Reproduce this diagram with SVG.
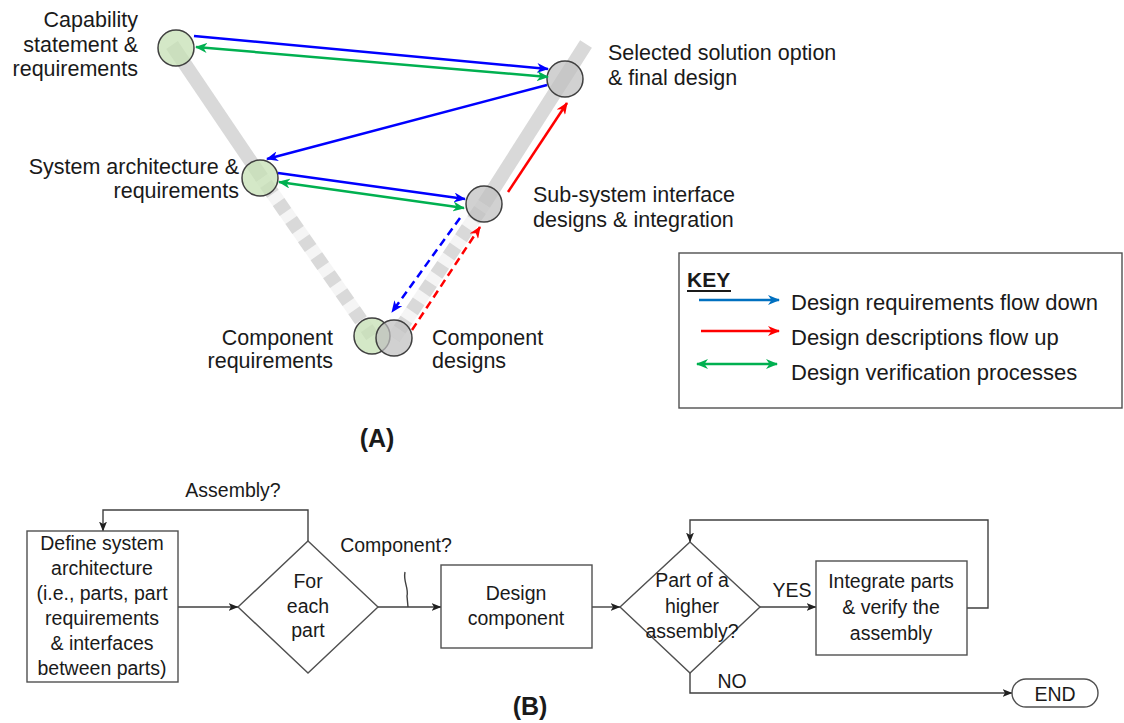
<svg xmlns="http://www.w3.org/2000/svg" width="1124" height="723" viewBox="0 0 1124 723">
  <style>
    text { font-family: "Liberation Sans", Arial, sans-serif; fill: #1a1a1a; }
    .lbl { font-size: 21.5px; }
    .key { font-size: 22px; }
    .fc { font-size: 19.5px; text-anchor: middle; }
    .title { font-size: 25px; font-weight: bold; text-anchor: middle; }
    .bar { stroke: #d9d9d9; stroke-width: 14; fill: none; stroke-linecap: butt; }
    .bar-dash { stroke: #d9d9d9; stroke-width: 14; fill: none; stroke-dasharray: 12 10; }
    .bar-thin { stroke: #f5f5f5; stroke-width: 14; fill: none; }
    .req { fill: #c5e0b4; fill-opacity: 0.75; stroke: #404040; stroke-width: 1.5; }
    .des { fill: #bfbfbf; fill-opacity: 0.72; stroke: #404040; stroke-width: 1.5; }
    .blue { stroke: #0000ff; stroke-width: 2.5; fill: none; marker-end: url(#hBlue); }
    .green { stroke: #00b050; stroke-width: 2.5; fill: none; marker-start: url(#hGreen); marker-end: url(#hGreen); }
    .red { stroke: #ff0000; stroke-width: 2.5; fill: none; marker-end: url(#hRed); }
    .dash { stroke-dasharray: 8 5; }
    .box { fill: #ffffff; stroke: #505050; stroke-width: 1.4; }
    .flow { stroke: #404040; stroke-width: 1.4; fill: none; }
    .flow-arrow { stroke: #404040; stroke-width: 1.4; fill: none; marker-end: url(#hFlow); }
  </style>
  <defs>
    <marker id="hBlue" viewBox="0 0 12 10" refX="11" refY="5" markerWidth="12" markerHeight="10" markerUnits="userSpaceOnUse" orient="auto-start-reverse">
      <path d="M0,0 L12,5 L0,10 L3.5,5 z" fill="#0000ff"/>
    </marker>
    <marker id="hKeyBlue" viewBox="0 0 12 10" refX="11" refY="5" markerWidth="12" markerHeight="10" markerUnits="userSpaceOnUse" orient="auto-start-reverse">
      <path d="M0,0 L12,5 L0,10 L3.5,5 z" fill="#0070c0"/>
    </marker>
    <marker id="hGreen" viewBox="0 0 12 10" refX="11" refY="5" markerWidth="12" markerHeight="10" markerUnits="userSpaceOnUse" orient="auto-start-reverse">
      <path d="M0,0 L12,5 L0,10 L3.5,5 z" fill="#00b050"/>
    </marker>
    <marker id="hRed" viewBox="0 0 12 10" refX="11" refY="5" markerWidth="12" markerHeight="10" markerUnits="userSpaceOnUse" orient="auto-start-reverse">
      <path d="M0,0 L12,5 L0,10 L3.5,5 z" fill="#ff0000"/>
    </marker>
    <marker id="hFlow" viewBox="0 0 10 8" refX="9.5" refY="4" markerWidth="10" markerHeight="8" markerUnits="userSpaceOnUse" orient="auto">
      <path d="M0,0 L10,4 L0,8 L2.5,4 z" fill="#202020"/>
    </marker>
  </defs>

  <rect width="1124" height="723" fill="#ffffff"/>

  <!-- (A) V-model backbone -->
  <g id="v-backbone">
    <line class="bar" x1="172" y1="45" x2="262" y2="178"/>
    <line class="bar-thin" x1="262" y1="178" x2="372" y2="336"/>
    <line class="bar-dash" x1="266" y1="184" x2="372" y2="336"/>
    <line class="bar" x1="586" y1="44" x2="484" y2="204"/>
    <line class="bar-thin" x1="484" y1="204" x2="394" y2="338"/>
    <line class="bar-dash" x1="480" y1="210" x2="394" y2="338"/>
  </g>

  <g id="node-capability">
    <circle class="req" cx="176" cy="48" r="18"/>
    <text class="lbl" text-anchor="end" x="138" y="27">Capability</text>
    <text class="lbl" text-anchor="end" x="138" y="52">statement &amp;</text>
    <text class="lbl" text-anchor="end" x="138" y="76">requirements</text>
  </g>
  <g id="node-selected">
    <circle class="des" cx="565" cy="79" r="18"/>
    <text class="lbl" x="608" y="60">Selected solution option</text>
    <text class="lbl" x="608" y="85">&amp; final design</text>
  </g>
  <g id="node-system">
    <circle class="req" cx="260" cy="178" r="18"/>
    <text class="lbl" text-anchor="end" x="239" y="174">System architecture &amp;</text>
    <text class="lbl" text-anchor="end" x="239" y="198">requirements</text>
  </g>
  <g id="node-subsystem">
    <circle class="des" cx="484" cy="204" r="18"/>
    <text class="lbl" x="533" y="202">Sub-system interface</text>
    <text class="lbl" x="533" y="227">designs &amp; integration</text>
  </g>
  <g id="node-component-req">
    <circle class="req" cx="372" cy="336" r="18"/>
    <text class="lbl" text-anchor="end" x="333" y="345">Component</text>
    <text class="lbl" text-anchor="end" x="333" y="368">requirements</text>
  </g>
  <g id="node-component-des">
    <circle class="des" cx="394" cy="338" r="18"/>
    <text class="lbl" x="432" y="345">Component</text>
    <text class="lbl" x="432" y="368">designs</text>
  </g>

  <g id="v-connectors">
    <line class="blue" x1="194" y1="36" x2="548" y2="69"/>
    <line class="green" x1="548" y1="77" x2="196" y2="47"/>
    <line class="blue" x1="547" y1="85" x2="267" y2="159"/>
    <line class="blue" x1="278" y1="173" x2="465" y2="199"/>
    <line class="green" x1="464" y1="208" x2="279" y2="182"/>
    <line class="red" x1="508" y1="192" x2="567" y2="103"/>
    <line class="red dash" x1="412" y1="330" x2="480" y2="227"/>
    <line class="blue dash" x1="460" y1="218" x2="392" y2="312"/>
  </g>

  <g id="key">
    <rect x="679" y="253" width="443" height="155" fill="#ffffff" stroke="#505050" stroke-width="1.4"/>
    <text x="687" y="287" font-size="21px" font-weight="bold">KEY</text>
    <line x1="687" y1="291" x2="731" y2="291" stroke="#1a1a1a" stroke-width="2"/>
    <line x1="699" y1="300" x2="779" y2="300" stroke="#0070c0" stroke-width="2.5" marker-end="url(#hKeyBlue)"/>
    <line x1="701" y1="331" x2="779" y2="331" stroke="#ff0000" stroke-width="2.5" marker-end="url(#hRed)"/>
    <line x1="697" y1="364" x2="777" y2="364" stroke="#00b050" stroke-width="2.5" marker-start="url(#hGreen)" marker-end="url(#hGreen)"/>
    <text class="key" x="791" y="310">Design requirements flow down</text>
    <text class="key" x="791" y="345">Design descriptions flow up</text>
    <text class="key" x="791" y="380">Design verification processes</text>
  </g>

  <text class="title" x="377" y="447">(A)</text>

  <!-- (B) flowchart -->
  <g id="flow-connectors">
    <line class="flow-arrow" x1="178" y1="607" x2="238" y2="607"/>
    <polyline class="flow-arrow" points="308,541 308,510 103,510 103,531"/>
    <line class="flow-arrow" x1="378" y1="607" x2="441" y2="607"/>
    <path class="flow" d="M405,572 C403,582 409,588 407,596 L408,607" stroke-width="1"/>
    <line class="flow-arrow" x1="592" y1="607" x2="620" y2="607"/>
    <line class="flow-arrow" x1="759" y1="607" x2="816" y2="607"/>
    <polyline class="flow-arrow" points="967,608 988,608 988,520 690,520 690,542"/>
    <polyline class="flow-arrow" points="690,673 690,693 1012,693"/>
    <text class="fc" x="233" y="497">Assembly?</text>
    <text class="fc" x="396" y="552">Component?</text>
    <text class="fc" x="792" y="597">YES</text>
    <text class="fc" x="732" y="688">NO</text>
  </g>

  <g id="flow-define">
    <rect class="box" x="27" y="531" width="151" height="151"/>
    <text class="fc" x="102" y="550">Define system</text>
    <text class="fc" x="102" y="575">architecture</text>
    <text class="fc" x="102" y="600">(i.e., parts, part</text>
    <text class="fc" x="102" y="625">requirements</text>
    <text class="fc" x="102" y="650">&amp; interfaces</text>
    <text class="fc" x="102" y="675">between parts)</text>
  </g>
  <g id="flow-foreach">
    <polygon class="box" points="308,541 378,607 308,673 238,607"/>
    <text class="fc" x="308" y="588">For</text>
    <text class="fc" x="308" y="613">each</text>
    <text class="fc" x="308" y="637">part</text>
  </g>
  <g id="flow-design">
    <rect class="box" x="441" y="565" width="151" height="83"/>
    <text class="fc" x="516" y="600">Design</text>
    <text class="fc" x="516" y="625">component</text>
  </g>
  <g id="flow-higher">
    <polygon class="box" points="690,542 760,607 690,673 620,607"/>
    <text class="fc" x="692" y="587">Part of a</text>
    <text class="fc" x="692" y="613">higher</text>
    <text class="fc" x="692" y="638">assembly?</text>
  </g>
  <g id="flow-integrate">
    <rect class="box" x="816" y="561" width="151" height="94"/>
    <text class="fc" x="891" y="588">Integrate parts</text>
    <text class="fc" x="891" y="614">&amp; verify the</text>
    <text class="fc" x="891" y="640">assembly</text>
  </g>
  <g id="flow-end">
    <rect class="box" x="1012" y="679" width="86" height="28" rx="14" ry="14"/>
    <text class="fc" x="1055" y="701">END</text>
  </g>

  <text class="title" x="530" y="715">(B)</text>
</svg>
